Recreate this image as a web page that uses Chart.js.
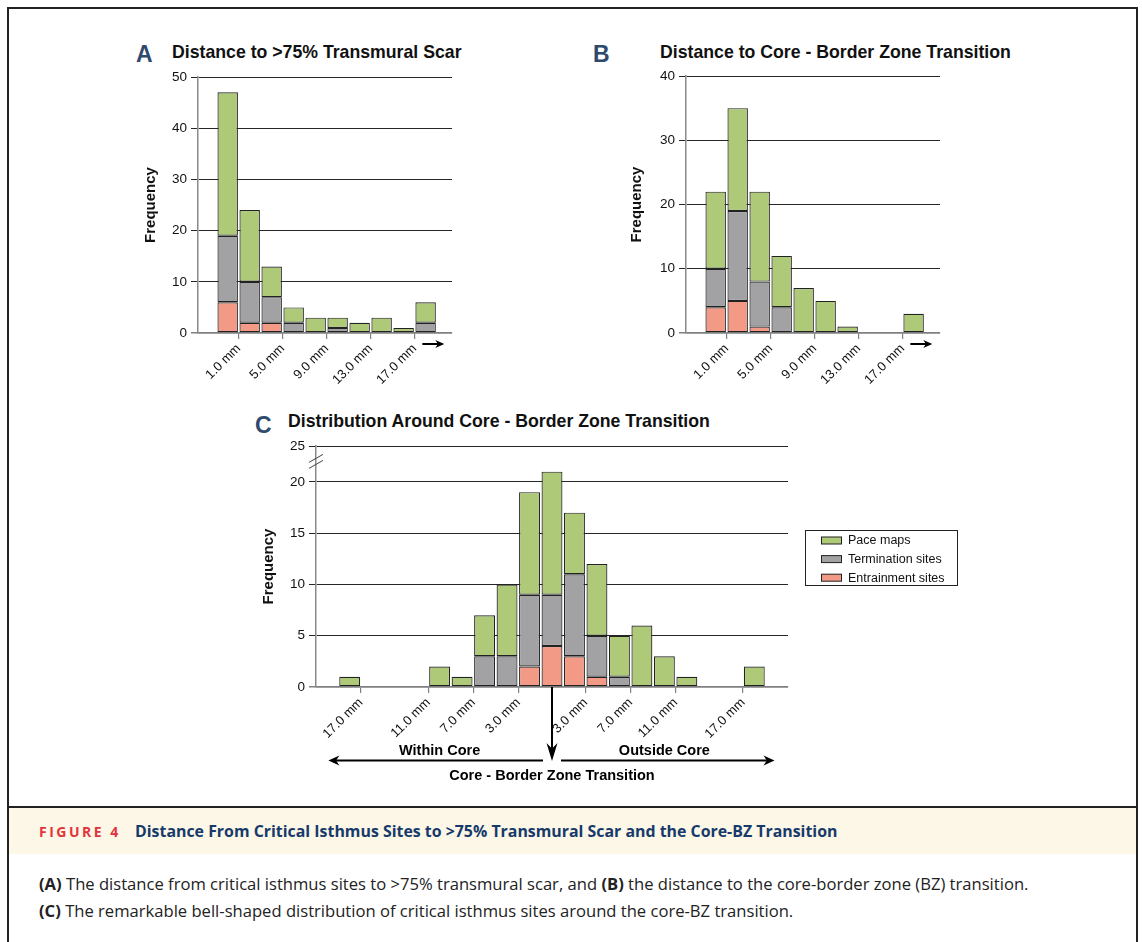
<!DOCTYPE html>
<html lang="en">
<head>
<meta charset="UTF-8">
<title>Figure 4 - Critical Isthmus Sites</title>
<style>
    body {
        margin: 0;
        background: #ffffff;
        font-family: 'Liberation Sans', Arial, sans-serif;
        color: #111;
    }
    #frame {
        position: absolute;
        left: 7px; top: 7px;
        width: 1131px; height: 1000px;
        border: 2px solid #222;
        box-sizing: border-box;
    }
    #divider {
        position: absolute;
        left: 7px; top: 806px;
        width: 1131px; height: 2px;
        background: #222;
    }
    #band {
        position: absolute;
        left: 9px; top: 808px;
        width: 1127px; height: 46px;
        background: #fcf7e7;
    }
    .panel {
        position: absolute;
        font-weight: bold;
        font-size: 23px;
        line-height: 1;
        color: #2f4a6c;
    }
    .ptitle {
        position: absolute;
        font-weight: bold;
        font-size: 17.7px;
        line-height: 1;
        white-space: nowrap;
    }
    .box { position: absolute; }
    .cap {
        position: absolute;
        font-family: 'Open Sans', Lato, sans-serif;
        white-space: nowrap;
        line-height: 1;
    }
    #figlabel {
        color: #e1343c;
        font-weight: bold;
        font-size: 14px;
        letter-spacing: 2.5px;
    }
    #figtitle { color: #173a6b; font-weight: bold; font-size: 15.9px; }
    .line { font-size: 16.6px; color: #222; }
</style>
</head>
<body>

<div id="frame"></div>

<div class="panel" style="left:136px;top:43px">A</div>
<div class="ptitle" style="left:172px;top:44px">Distance to &gt;75% Transmural Scar</div>
<div class="box" style="left:110px;top:60px"><canvas id="chartA" width="360" height="332"></canvas></div>

<div class="panel" style="left:593px;top:43px">B</div>
<div class="ptitle" style="left:660px;top:44px">Distance to Core - Border Zone Transition</div>
<div class="box" style="left:600px;top:60px"><canvas id="chartB" width="360" height="332"></canvas></div>

<div class="panel" style="left:255px;top:414px">C</div>
<div class="ptitle" style="left:288px;top:413px">Distribution Around Core - Border Zone Transition</div>
<div class="box" style="left:240px;top:430px"><canvas id="chartC" width="730" height="360"></canvas></div>

<div id="divider"></div>
<div id="band"></div>
<div class="cap" id="figlabel" style="left:39px;top:825px">FIGURE 4</div>
<div class="cap" id="figtitle" style="left:135px;top:824px">Distance From Critical Isthmus Sites to &gt;75% Transmural Scar and the Core-BZ Transition</div>
<div class="cap line" style="left:39px;top:876px"><b>(A)</b> The distance from critical isthmus sites to &gt;75% transmural scar, and <b>(B)</b> the distance to the core-border zone (BZ) transition.</div>
<div class="cap line" style="left:39px;top:903px"><b>(C)</b> The remarkable bell-shaped distribution of critical isthmus sites around the core-BZ transition.</div>

<script src="https://cdn.jsdelivr.net/npm/chart.js@4.4.0/dist/chart.umd.min.js"></script>
<script>
    // bin centres in mm (A and B: distance, C: signed distance, negative = within core)
    const binsAB = [0, 2, 4, 6, 8, 10, 12, 14, 16, 18];
    const ticksAB = [1, 5, 9, 13, 17];

    // A - distance to >75% transmural scar
    const scarEntrain = [6, 2, 2, 0, 0, 0, 0, 0, 0, 0];
    const scarTerm    = [13, 8, 5, 2, 0, 1, 0, 0, 0, 2];
    const scarPace    = [28, 14, 6, 3, 3, 2, 2, 3, 1, 4];
    const yTicksA = [0, 10, 20, 30, 40, 50];

    // B - distance to core / border zone transition
    const bzEntrain = [4, 5, 1, 0, 0, 0, 0, 0, 0, 0];
    const bzTerm    = [6, 14, 7, 4, 0, 0, 0, 0, 0, 0];
    const bzPace    = [12, 16, 14, 8, 7, 5, 1, 0, 0, 3];
    const yTicksB = [0, 10, 20, 30, 40];

    // C - distribution around the transition
    const binsC = [-18, -16, -14, -12, -10, -8, -6, -4, -2, 0, 2, 4, 6, 8, 10, 12, 14, 16, 18];
    const ticksC = [-17, -11, -7, -3, 3, 7, 11, 17];
    const aroundEntrain = [0, 0, 0, 0, 0, 0, 0, 0, 2, 4, 3, 1, 0, 0, 0, 0, 0, 0, 0];
    const aroundTerm    = [0, 0, 0, 0, 0, 0, 3, 3, 7, 5, 8, 4, 1, 0, 0, 0, 0, 0, 0];
    const aroundPace    = [1, 0, 0, 0, 2, 1, 4, 7, 10, 12, 6, 7, 4, 6, 3, 1, 0, 0, 2];
    const yTicksC = [0, 5, 10, 15, 20, 25];
    const yBreakTop = 23.5; // axis is broken above 20, "25" sits at the top

    const seriesNames = ['Entrainment sites', 'Termination sites', 'Pace maps'];
    const seriesColors = ['#f29a86', '#a2a2a5', '#aeca79'];

    Chart.defaults.font.family = "'Liberation Sans', Arial, sans-serif";
    Chart.defaults.color = '#111';

    function series(i, bins, vals) {
        return {
            label: seriesNames[i],
            data: bins.map((b, k) => ({ x: b, y: vals[k] || null })),
            backgroundColor: seriesColors[i],
            borderColor: '#222',
            borderWidth: 1.2,
            borderSkipped: false,
            barPercentage: 0.93,
            categoryPercentage: 1
        };
    }

    function arrow(ctx, x1, y1, x2, y2, len, half) {
        const a = Math.atan2(y2 - y1, x2 - x1);
        ctx.beginPath();
        ctx.moveTo(x1, y1);
        ctx.lineTo(x2 - Math.cos(a) * len * 0.7, y2 - Math.sin(a) * len * 0.7);
        ctx.stroke();
        ctx.beginPath();
        ctx.moveTo(x2, y2);
        ctx.lineTo(x2 - Math.cos(a) * len - Math.sin(a) * half, y2 - Math.sin(a) * len + Math.cos(a) * half);
        ctx.lineTo(x2 - Math.cos(a) * len * 0.7, y2 - Math.sin(a) * len * 0.7);
        ctx.lineTo(x2 - Math.cos(a) * len + Math.sin(a) * half, y2 - Math.sin(a) * len - Math.cos(a) * half);
        ctx.closePath();
        ctx.fill();
    }

    // small "beyond" arrow after the last tick of A and B
    const tailArrow = {
        id: 'tailArrow',
        afterDraw(chart) {
            const { ctx, chartArea: a, scales: { x } } = chart;
            ctx.save();
            ctx.strokeStyle = '#000';
            ctx.fillStyle = '#000';
            ctx.lineWidth = 2;
            arrow(ctx, x.getPixelForValue(17.7), a.bottom + 11, x.getPixelForValue(19.7), a.bottom + 11, 9, 4);
            ctx.restore();
        }
    };

    function histogram(id, bins, entr, term, pace, opts) {
        const yTicks = opts.yTicks;
        return new Chart(document.getElementById(id), {
            type: 'bar',
            data: {
                datasets: [series(0, bins, entr), series(1, bins, term), series(2, bins, pace)]
            },
            options: {
                responsive: false,
                animation: false,
                layout: { padding: opts.padding },
                plugins: { legend: { display: false }, tooltip: { enabled: false } },
                scales: {
                    x: {
                        type: 'linear',
                        stacked: true,
                        offset: false,
                        min: opts.xMin,
                        max: opts.xMax,
                        afterFit: s => { s.height = opts.xHeight; },
                        afterBuildTicks: s => { s.ticks = opts.xTicks.map(v => ({ value: v })); },
                        grid: { offset: false, drawOnChartArea: false, drawTicks: true, tickLength: 6, color: '#808080', lineWidth: 1.2 },
                        border: { color: '#808080', width: 1.5 },
                        ticks: {
                            autoSkip: false,
                            minRotation: 45,
                            maxRotation: 45,
                            padding: 2,
                            font: { size: 13 },
                            callback: v => Math.abs(v).toFixed(1) + ' mm'
                        }
                    },
                    y: {
                        stacked: true,
                        min: 0,
                        max: opts.yMax,
                        afterFit: s => { s.width = opts.yWidth; },
                        afterBuildTicks: s => { s.ticks = yTicks.map(v => ({ value: Math.min(v, opts.yMax) })); },
                        grid: {
                            drawTicks: true,
                            tickLength: 7,
                            color: c => c.tick && c.tick.value === 0 ? '#808080' : '#262626',
                            lineWidth: c => c.tick && c.tick.value === 0 ? 1.5 : 1
                        },
                        border: { color: '#8a8a8a', width: 1.5 },
                        ticks: {
                            padding: 4,
                            font: { size: 13.5 },
                            callback: (v, i) => String(yTicks[i])
                        },
                        title: {
                            display: true,
                            text: 'Frequency',
                            font: { size: 15, weight: 'bold' },
                            padding: { top: opts.titlePad, bottom: 0 }
                        }
                    }
                }
            },
            plugins: opts.plugins
        });
    }

    histogram('chartA', binsAB, scarEntrain, scarTerm, scarPace, {
        xMin: -2.7, xMax: 20.4, xTicks: ticksAB, yMax: 50, yTicks: yTicksA,
        padding: { top: 17, right: 18, left: 0, bottom: 0 },
        xHeight: 59, yWidth: 88, titlePad: 32, plugins: [tailArrow]
    });

    histogram('chartB', binsAB, bzEntrain, bzTerm, bzPace, {
        xMin: -2.7, xMax: 20.4, xTicks: ticksAB, yMax: 40, yTicks: yTicksB,
        padding: { top: 16, right: 20, left: 0, bottom: 0 },
        xHeight: 59, yWidth: 86, titlePad: 28, plugins: [tailArrow]
    });

    // annotations, axis break and boxed legend for panel C
    const coreNotes = {
        id: 'coreNotes',
        afterDraw(chart) {
            const { ctx, chartArea: a, scales: { x, y } } = chart;
            const cx = x.getPixelForValue(0);
            ctx.save();
            ctx.strokeStyle = '#000';
            ctx.fillStyle = '#000';
            ctx.lineWidth = 2;
            arrow(ctx, cx, a.bottom, cx, a.bottom + 74, 18, 5.5);
            const ay = a.bottom + 73.5;
            arrow(ctx, x.getPixelForValue(-0.8), ay, x.getPixelForValue(-19.9), ay, 11, 5);
            arrow(ctx, x.getPixelForValue(0.8), ay, x.getPixelForValue(19.8), ay, 11, 5);

            ctx.font = "bold 14.5px 'Liberation Sans', Arial, sans-serif";
            ctx.textAlign = 'center';
            ctx.textBaseline = 'middle';
            ctx.fillText('Within Core', x.getPixelForValue(-10), a.bottom + 64);
            ctx.fillText('Outside Core', x.getPixelForValue(10), a.bottom + 64);
            ctx.fillText('Core - Border Zone Transition', cx, a.bottom + 89);

            // axis break marks
            const by = y.getPixelForValue(22);
            ctx.strokeStyle = '#444';
            ctx.lineWidth = 1.1;
            [-3, 3].forEach(d => {
                ctx.beginPath();
                ctx.moveTo(a.left - 7, by + d + 4);
                ctx.lineTo(a.left + 7, by + d - 4);
                ctx.stroke();
            });

            // legend
            const lx = a.right + 17, ly = a.top + 84, lw = 152, lh = 55;
            ctx.strokeStyle = '#222';
            ctx.lineWidth = 1;
            ctx.strokeRect(lx + 0.5, ly + 0.5, lw, lh);
            ctx.font = "12.5px 'Liberation Sans', Arial, sans-serif";
            ctx.textAlign = 'left';
            chart.data.datasets.slice().reverse().forEach((ds, i) => {
                const ry = ly + 10.5 + i * 18.6;
                ctx.fillStyle = ds.backgroundColor;
                ctx.fillRect(lx + 16, ry - 3.5, 21, 7);
                ctx.strokeStyle = '#222';
                ctx.strokeRect(lx + 16.5, ry - 3.5, 20, 7);
                ctx.fillStyle = '#111';
                ctx.fillText(ds.label, lx + 43, ry + 0.5);
            });
            ctx.restore();
        }
    };

    histogram('chartC', binsC, aroundEntrain, aroundTerm, aroundPace, {
        xMin: -21, xMax: 21, xTicks: ticksC, yMax: yBreakTop, yTicks: yTicksC,
        padding: { top: 16, right: 182, left: 0, bottom: 0 },
        xHeight: 103, yWidth: 76, titlePad: 20, plugins: [coreNotes]
    });
</script>

</body>
</html>
